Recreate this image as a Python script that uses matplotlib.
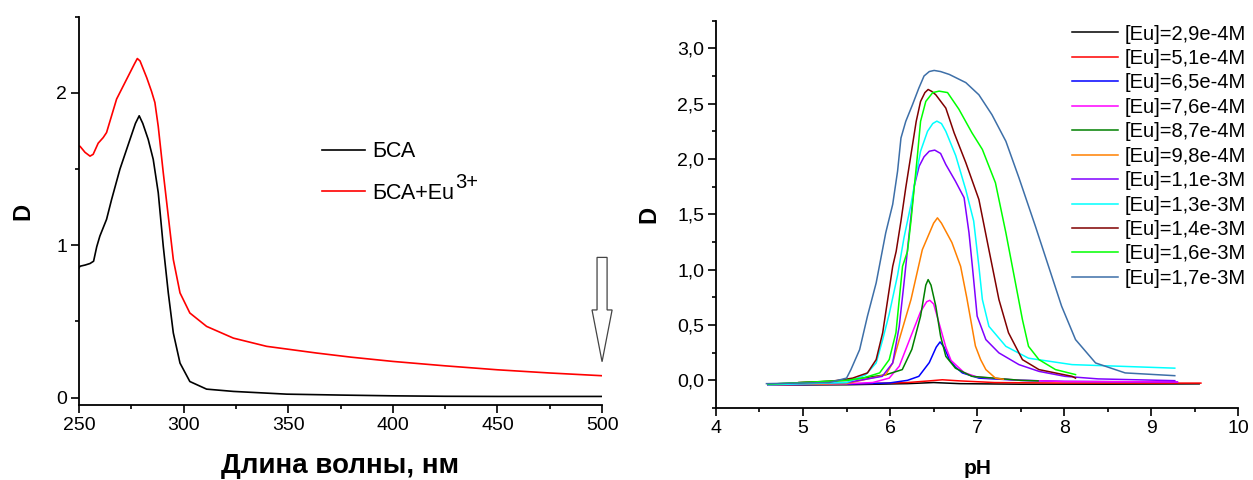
import matplotlib
matplotlib.use("Agg")
import matplotlib.pyplot as plt
from matplotlib.ticker import MultipleLocator, FuncFormatter
from matplotlib.patches import FancyArrow

plt.rcParams['font.family'] = ['Liberation Sans', 'DejaVu Sans']

# ---------------- Left panel data ----------------
wl_bsa = [250, 250.5, 253, 255.3, 257, 258.5, 260, 263.2, 265.6, 269.6, 274.4, 277, 278.8,
          280.5, 283.1, 285.5, 287.9, 290.3, 292.7, 295.1, 298.3, 303, 311, 323.8, 349.3,
          375, 400, 425, 450, 475, 500]
d_bsa = [0.85, 0.862, 0.87, 0.88, 0.895, 0.99, 1.06, 1.17, 1.30, 1.50, 1.695, 1.80, 1.85,
         1.80, 1.695, 1.564, 1.345, 0.993, 0.687, 0.424, 0.226, 0.105, 0.055, 0.04, 0.022,
         0.016, 0.011, 0.008, 0.007, 0.007, 0.007]

wl_eu = [250, 250.5, 252.9, 255.3, 256.8, 259.2, 261.6, 263.2, 265.6, 268, 272.8, 276.5,
         277.9, 279.2, 282.4, 284.7, 286.3, 287.9, 290.3, 292.7, 295.1, 298.3, 303, 311,
         323.8, 339.7, 363.6, 380, 400, 425, 450, 475, 500]
d_eu = [1.65, 1.65, 1.61, 1.585, 1.597, 1.67, 1.707, 1.74, 1.85, 1.96, 2.09, 2.19,
        2.226, 2.21, 2.10, 2.01, 1.937, 1.78, 1.476, 1.19, 0.906, 0.687, 0.555, 0.467,
        0.39, 0.336, 0.292, 0.265, 0.237, 0.208, 0.182, 0.161, 0.143]

left_labels = ['БСА', 'БСА+Eu']
left_sup = '3+'
left_colors = ['black', 'red']

# ---------------- Right panel data ----------------
labels = ['[Eu]=2,9e-4M', '[Eu]=5,1e-4M', '[Eu]=6,5e-4M', '[Eu]=7,6e-4M',
          '[Eu]=8,7e-4M', '[Eu]=9,8e-4M', '[Eu]=1,1e-3M', '[Eu]=1,3e-3M',
          '[Eu]=1,4e-3M', '[Eu]=1,6e-3M', '[Eu]=1,7e-3M']
colors = ['#000000', '#ff0000', '#0000ff', '#ff00ff', '#008000', '#ff8000',
          '#8000ff', '#00ffff', '#800000', '#00ff00', '#3d6fa8']

ph_1 = [4.6, 5.5, 6.2, 6.5, 6.8, 7.5, 8.5, 9.55]
d_1 = [-0.042, -0.04, -0.03, -0.02, -0.03, -0.035, -0.035, -0.032]

ph_2 = [4.6, 5.5, 6.2, 6.45, 6.6, 6.8, 7.2, 8.0, 9.57]
d_2 = [-0.038, -0.035, -0.02, -0.005, 0.005, -0.005, -0.02, -0.025, -0.025]

ph_3 = [4.6, 5.5, 5.99, 6.2, 6.33, 6.45, 6.53, 6.574, 6.62, 6.68, 6.75, 6.83, 7.02, 7.5, 8.0, 9.3]
d_3 = [-0.04, -0.035, -0.024, 0.0, 0.036, 0.16, 0.30, 0.347, 0.30, 0.19, 0.12, 0.067, 0.02, 0.0, -0.01, -0.015]

ph_4 = [4.6, 5.5, 5.8, 5.99, 6.105, 6.24, 6.35, 6.42, 6.456, 6.5, 6.54, 6.64, 6.7, 6.85, 7.0, 7.5, 8.0, 9.3]
d_4 = [-0.04, -0.03, -0.02, 0.02, 0.127, 0.40, 0.62, 0.71, 0.723, 0.69, 0.58, 0.30, 0.18, 0.07, 0.03, 0.0, -0.01, -0.015]

ph_5 = [4.6, 5.5, 5.95, 6.14, 6.25, 6.35, 6.41, 6.437, 6.47, 6.525, 6.58, 6.64, 6.75, 6.94, 7.5, 7.7]
d_5 = [-0.035, 0.0, 0.05, 0.097, 0.28, 0.58, 0.86, 0.91, 0.86, 0.67, 0.40, 0.217, 0.11, 0.036, 0.0, -0.005]

ph_6 = [4.6, 5.5, 5.95, 6.03, 6.105, 6.24, 6.37, 6.5, 6.544, 6.59, 6.71, 6.81, 6.88, 6.98,
        7.04, 7.1, 7.21, 7.3]
d_6 = [-0.04, -0.03, 0.05, 0.157, 0.368, 0.73, 1.18, 1.42, 1.468, 1.42, 1.245, 1.03, 0.75,
       0.31, 0.187, 0.097, 0.02, 0.01]

ph_7 = [4.6, 5.5, 5.91, 6.03, 6.105, 6.16, 6.22, 6.277, 6.334, 6.39, 6.45, 6.513, 6.58, 6.64,
        6.75, 6.85, 6.906, 6.945, 7.0, 7.1, 7.25, 7.48, 7.71, 8.01, 8.39, 9.27]
d_7 = [-0.04, -0.02, 0.036, 0.157, 0.488, 0.88, 1.333, 1.754, 1.935, 2.02, 2.07, 2.08, 2.05,
       1.95, 1.80, 1.65, 1.335, 1.03, 0.58, 0.368, 0.248, 0.142, 0.081, 0.036, 0.013, -0.003]

ph_8 = [4.6, 5.5, 5.72, 5.84, 5.915, 5.99, 6.086, 6.16, 6.24, 6.30, 6.35, 6.43, 6.49, 6.537,
        6.59, 6.64, 6.754, 6.87, 6.96, 7.02, 7.06, 7.135, 7.33, 7.59, 8.09, 9.27]
d_8 = [-0.04, -0.02, 0.05, 0.157, 0.368, 0.6, 0.95, 1.29, 1.59, 1.86, 2.07, 2.25, 2.32, 2.342,
       2.32, 2.25, 2.03, 1.72, 1.44, 1.03, 0.73, 0.488, 0.307, 0.2, 0.142, 0.11]

ph_9 = [4.95, 5.3, 5.45, 5.57, 5.74, 5.84, 5.915, 6.03, 6.07, 6.125, 6.18, 6.24, 6.30,
        6.35, 6.40, 6.437, 6.48, 6.525, 6.64, 6.735, 6.87, 7.02, 7.135, 7.25, 7.36, 7.52,
        7.71, 8.09, 8.13]
d_9 = [-0.02, -0.01, 0.005, 0.02, 0.067, 0.187, 0.43, 1.03, 1.166, 1.44, 1.74, 2.04, 2.34,
       2.52, 2.60, 2.628, 2.61, 2.58, 2.46, 2.237, 1.966, 1.634, 1.18, 0.73, 0.43, 0.187,
       0.097, 0.036, 0.02]

ph_10 = [4.6, 5.5, 5.685, 5.88, 5.99, 6.067, 6.143, 6.2, 6.24, 6.277, 6.315, 6.35, 6.41,
         6.49, 6.563, 6.66, 6.79, 6.94, 7.06, 7.21, 7.33, 7.44, 7.52, 7.59, 7.71, 7.9, 8.13]
d_10 = [-0.035, 0.0, 0.02, 0.067, 0.187, 0.43, 1.03, 1.166, 1.44, 1.74, 2.04, 2.34, 2.52,
        2.6, 2.613, 2.6, 2.45, 2.237, 2.086, 1.785, 1.333, 0.88, 0.549, 0.307, 0.187,
        0.097, 0.052]

ph_11 = [4.58, 5.3, 5.5, 5.55, 5.65, 5.74, 5.84, 5.95, 6.03, 6.086, 6.125, 6.18, 6.257,
         6.33, 6.39, 6.45, 6.506, 6.58, 6.68, 6.87, 7.02, 7.17, 7.33, 7.48, 7.67, 7.82,
         7.97, 8.13, 8.36, 8.70, 9.27]
d_11 = [-0.03, -0.02, 0.02, 0.097, 0.277, 0.58, 0.88, 1.333, 1.59, 1.89, 2.19, 2.34, 2.49,
        2.64, 2.75, 2.79, 2.80, 2.79, 2.764, 2.69, 2.58, 2.40, 2.16, 1.83, 1.39, 1.03,
        0.67, 0.368, 0.157, 0.067, 0.042]

ph_series = [ph_1, ph_2, ph_3, ph_4, ph_5, ph_6, ph_7, ph_8, ph_9, ph_10, ph_11]
d_series = [d_1, d_2, d_3, d_4, d_5, d_6, d_7, d_8, d_9, d_10, d_11]

# ---------------- Figure ----------------
fig = plt.figure(figsize=(12.53, 4.8), dpi=100)
ax1 = fig.add_axes([0.063, 0.156, 0.4175, 0.809])
ax2 = fig.add_axes([0.5714, 0.15, 0.4169, 0.807])

for ax in (ax1, ax2):
    ax.spines['top'].set_visible(False)
    ax.spines['right'].set_visible(False)
    ax.spines['left'].set_linewidth(1.3)
    ax.spines['bottom'].set_linewidth(1.3)
    ax.tick_params(which='major', direction='out', length=5.5, width=1.2, labelsize=14,
                   pad=3)
    ax.tick_params(which='minor', direction='out', length=3, width=1.2)

# Left
ax1.plot(wl_bsa, d_bsa, color=left_colors[0], lw=1.2, label=left_labels[0])
ax1.plot(wl_eu, d_eu, color=left_colors[1], lw=1.2, label=left_labels[1])
ax1.set_xlim(250, 500)
ax1.set_ylim(-0.05, 2.5)
ax1.xaxis.set_major_locator(MultipleLocator(50))
ax1.xaxis.set_minor_locator(MultipleLocator(25))
ax1.yaxis.set_major_locator(MultipleLocator(1))
ax1.yaxis.set_minor_locator(MultipleLocator(0.5))
ax1.set_xlabel('Длина волны, нм', fontsize=20, fontweight='bold', labelpad=14)
ax1.set_ylabel('D', fontsize=17, fontweight='bold', labelpad=16)
leg1 = ax1.legend(loc='upper left', bbox_to_anchor=(0.464, 0.68), frameon=False,
                  fontsize=15.5, handlelength=2.0, handletextpad=0.35, labelspacing=0.95,
                  borderpad=0, borderaxespad=0)
arrow = FancyArrow(500, 0.92, 0, -0.685, width=4.8, head_width=9.6, head_length=0.34,
                   length_includes_head=True, facecolor='white', edgecolor='#444444',
                   linewidth=0.9, clip_on=False, zorder=5)
ax1.add_patch(arrow)

# Right
for ph, d, c, lab in zip(ph_series, d_series, colors, labels):
    ax2.plot(ph, d, color=c, lw=1.1, label=lab)
ax2.set_xlim(4, 10)
ax2.set_ylim(-0.25, 3.25)
ax2.xaxis.set_major_locator(MultipleLocator(1))
ax2.xaxis.set_minor_locator(MultipleLocator(0.5))
ax2.yaxis.set_major_locator(MultipleLocator(0.5))
ax2.yaxis.set_minor_locator(MultipleLocator(0.25))
ax2.yaxis.set_major_formatter(FuncFormatter(lambda v, p: f"{v:.1f}".replace('.', ',')))
ax2.set_xlabel('pH', fontsize=15, fontweight='bold', labelpad=16)
ax2.set_ylabel('D', fontsize=17, fontweight='bold', labelpad=12)
ax2.legend(loc='upper right', bbox_to_anchor=(1.014, 0.99), frameon=False, fontsize=14.5,
           handlelength=2.3, handletextpad=0.3, labelspacing=0.27, borderpad=0,
           borderaxespad=0)

# superscript "3+" after the second left legend entry
fig.canvas.draw()
renderer = fig.canvas.get_renderer()
bb = leg1.get_texts()[1].get_window_extent(renderer)
fig.text(bb.x1 / fig.bbox.width + 0.001, (bb.y0 + 0.55 * bb.height) / fig.bbox.height,
         left_sup, fontsize=14.5, ha='left', va='bottom')

fig.savefig('out.png', dpi=100)
